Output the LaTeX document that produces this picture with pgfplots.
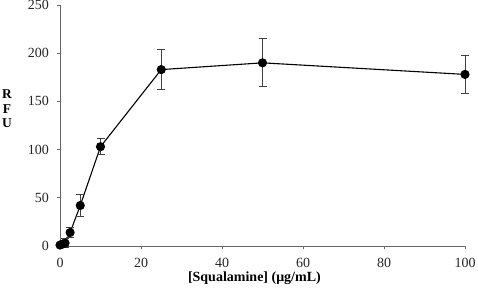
\documentclass[border=0pt]{standalone}
\usepackage{pgfplots}
\pgfplotsset{compat=1.18}
\usepackage{fontspec}
\setmainfont{Liberation Serif}
\begin{document}
\begin{tikzpicture}
\useasboundingbox (0,0) rectangle (478pt,288pt);
\begin{axis}[
  at={(60pt,42pt)}, anchor=south west,
  scale only axis, width=405pt, height=241pt,
  xmin=0, xmax=100, ymin=0, ymax=250,
  xtick={0,20,40,60,80,100},
  ytick={0,50,100,150,200,250},
  axis x line*=bottom, axis y line*=left,
  axis line style={draw=gray!80!black, line width=0.6pt, -},
  tick style={draw=gray!80!black, line width=0.6pt},
  tick align=outside, major tick length=3.5pt,
  /pgf/number format/assume math mode=true,
  tick label style={font=\fontsize{14}{16}\selectfont, text=black!85},
  xticklabel style={anchor=base, yshift=-18.5pt},
  yticklabel style={xshift=-4pt},
  xlabel={\textbf{[Squalamine] (μg/mL)}},
  xlabel style={font=\fontsize{14}{16}\selectfont, at={(axis description cs:0.48,0)}, anchor=base, yshift=-36pt},
  clip=false,
]
\addplot[black, line width=1.1pt, mark=*, mark size=4pt,
  error bars/.cd, y dir=both, y explicit,
  error bar style={black!75, line width=1pt},
  error mark options={rotate=90, mark size=4pt, black!75, line width=1pt}]
coordinates {
(0,1) +- (0,1)
(0.625,2) +- (0,2)
(1.25,3) +- (0,5)
(2.5,14) +- (0,5)
(5,42) +- (0,11)
(10,103) +- (0,8)
(25,183) +- (0,20.5)
(50,190) +- (0,25)
(100,178) +- (0,20)
};
\end{axis}
\node[font=\fontsize{13.5}{15}\selectfont\bfseries, align=center, inner sep=0pt] at (7pt,179pt) {R\\[-0.5pt]F\\[-0.5pt]U};
\end{tikzpicture}
\end{document}
